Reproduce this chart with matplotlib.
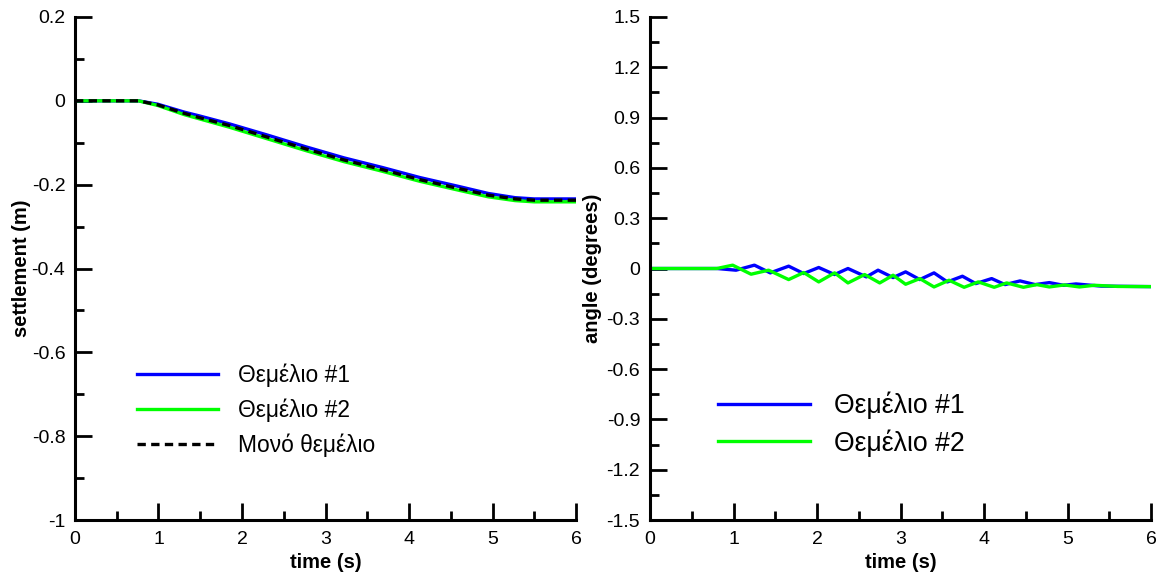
import matplotlib
matplotlib.use("Agg")
import matplotlib.pyplot as plt
from matplotlib.ticker import MultipleLocator

plt.rcParams['font.family'] = ['Liberation Sans', 'DejaVu Sans']

# settlement (m) vs time (s)
t_set = [0.0, 0.5, 0.76, 0.99, 1.31, 1.49, 1.85, 2.31, 2.77, 3.22, 3.68, 4.13, 4.59, 4.95, 5.27, 5.5, 6.0]
set_single = [0.0, 0.0, 0.0, -0.0095, -0.030, -0.040, -0.059, -0.087, -0.115, -0.141, -0.164, -0.188, -0.209, -0.225, -0.234, -0.237, -0.237]
set_f1 = [0.0, 0.0, 0.0, -0.008, -0.027, -0.036, -0.055, -0.082, -0.110, -0.136, -0.159, -0.183, -0.204, -0.221, -0.231, -0.234, -0.234]
set_f2 = [0.0, 0.0, 0.0, -0.011, -0.033, -0.043, -0.063, -0.091, -0.119, -0.145, -0.168, -0.192, -0.213, -0.229, -0.238, -0.241, -0.241]

# rotation angle (degrees) vs time (s)
t_ang1 = [0.0, 0.8, 1.03, 1.25, 1.44, 1.66, 1.84, 2.02, 2.21, 2.37, 2.59, 2.73, 2.91, 3.06, 3.23,
          3.40, 3.56, 3.74, 3.90, 4.09, 4.25, 4.43, 4.61, 4.78, 4.95, 5.10, 5.40, 6.0]
ang_f1 = [0.0, 0.0, -0.010, 0.020, -0.026, 0.014, -0.030, 0.006, -0.036, 0.0, -0.050, -0.010, -0.054, -0.020, -0.066,
          -0.026, -0.080, -0.046, -0.090, -0.060, -0.096, -0.074, -0.096, -0.084, -0.100, -0.092, -0.105, -0.108]
t_ang2 = [0.0, 0.8, 0.99, 1.21, 1.42, 1.66, 1.84, 2.02, 2.21, 2.37, 2.57, 2.75, 2.91, 3.06, 3.23,
          3.40, 3.58, 3.76, 3.93, 4.12, 4.27, 4.47, 4.63, 4.78, 4.96, 5.14, 5.32, 5.6, 6.0]
ang_f2 = [0.0, 0.0, 0.020, -0.034, -0.010, -0.066, -0.024, -0.080, -0.026, -0.086, -0.036, -0.086, -0.040, -0.094, -0.060,
          -0.110, -0.070, -0.112, -0.080, -0.112, -0.086, -0.112, -0.096, -0.110, -0.098, -0.110, -0.100, -0.107, -0.108]

fig = plt.figure(figsize=(11.59, 5.78), dpi=100)
ax1 = fig.add_axes([0.0647, 0.1003, 0.4323, 0.8703])
ax2 = fig.add_axes([0.5608, 0.1003, 0.4325, 0.8703])

lw = 2.4
ax1.plot(t_set, set_f1, color='#0000ff', lw=lw, label='Θεμέλιο #1')
ax1.plot(t_set, set_f2, color='#00ff00', lw=lw, label='Θεμέλιο #2')
ax1.plot(t_set, set_single, color='black', lw=2.4, ls=(0, (2.5, 1.6)), label='Μονό θεμέλιο')

ax2.plot(t_ang1, ang_f1, color='#0000ff', lw=lw, label='Θεμέλιο #1', solid_joinstyle='round')
ax2.plot(t_ang2, ang_f2, color='#00ff00', lw=lw, label='Θεμέλιο #2', solid_joinstyle='round')

for ax in (ax1, ax2):
    ax.set_xlim(0, 6)
    ax.xaxis.set_major_locator(MultipleLocator(1))
    ax.xaxis.set_minor_locator(MultipleLocator(0.5))
    for s in ('top', 'right'):
        ax.spines[s].set_visible(False)
    for s in ('left', 'bottom'):
        ax.spines[s].set_linewidth(2.2)
    ax.tick_params(which='major', direction='in', length=12.5, width=2.0, labelsize=14)
    ax.tick_params(which='minor', direction='in', length=6.5, width=2.0)
    ax.tick_params(axis='y', which='major', pad=7)
    ax.tick_params(axis='x', which='major', pad=8)
    ax.set_xlabel('time (s)', fontsize=14.5, fontweight='bold')
    ax.xaxis.set_label_coords(0.5, -0.066)

ax1.set_ylim(-1, 0.2)
ax1.yaxis.set_major_locator(MultipleLocator(0.2))
ax1.yaxis.set_minor_locator(MultipleLocator(0.1))
ax1.set_yticks([-1, -0.8, -0.6, -0.4, -0.2, 0, 0.2], ['-1', '-0.8', '-0.6', '-0.4', '-0.2', '0', '0.2'])
ax1.set_ylabel('settlement (m)', fontsize=14.5, fontweight='bold')
ax1.yaxis.set_label_coords(-0.088, 0.5)

ax2.set_ylim(-1.5, 1.5)
ax2.yaxis.set_major_locator(MultipleLocator(0.3))
ax2.yaxis.set_minor_locator(MultipleLocator(0.15))
ax2.set_yticks([-1.5, -1.2, -0.9, -0.6, -0.3, 0, 0.3, 0.6, 0.9, 1.2, 1.5],
               ['-1.5', '-1.2', '-0.9', '-0.6', '-0.3', '0', '0.3', '0.6', '0.9', '1.2', '1.5'])
ax2.set_ylabel('angle (degrees)', fontsize=14.5, fontweight='bold')
ax2.yaxis.set_label_coords(-0.095, 0.5)

ax1.legend(loc='center left', bbox_to_anchor=(0.124, 0.219), frameon=False, fontsize=16.4,
           handlelength=3.55, handletextpad=0.88, labelspacing=0.5, borderpad=0, borderaxespad=0)
ax2.legend(loc='center left', bbox_to_anchor=(0.136, 0.191), frameon=False, fontsize=19.2,
           handlelength=3.45, handletextpad=0.88, labelspacing=0.38, borderpad=0, borderaxespad=0)

fig.savefig('out.png', dpi=100)
